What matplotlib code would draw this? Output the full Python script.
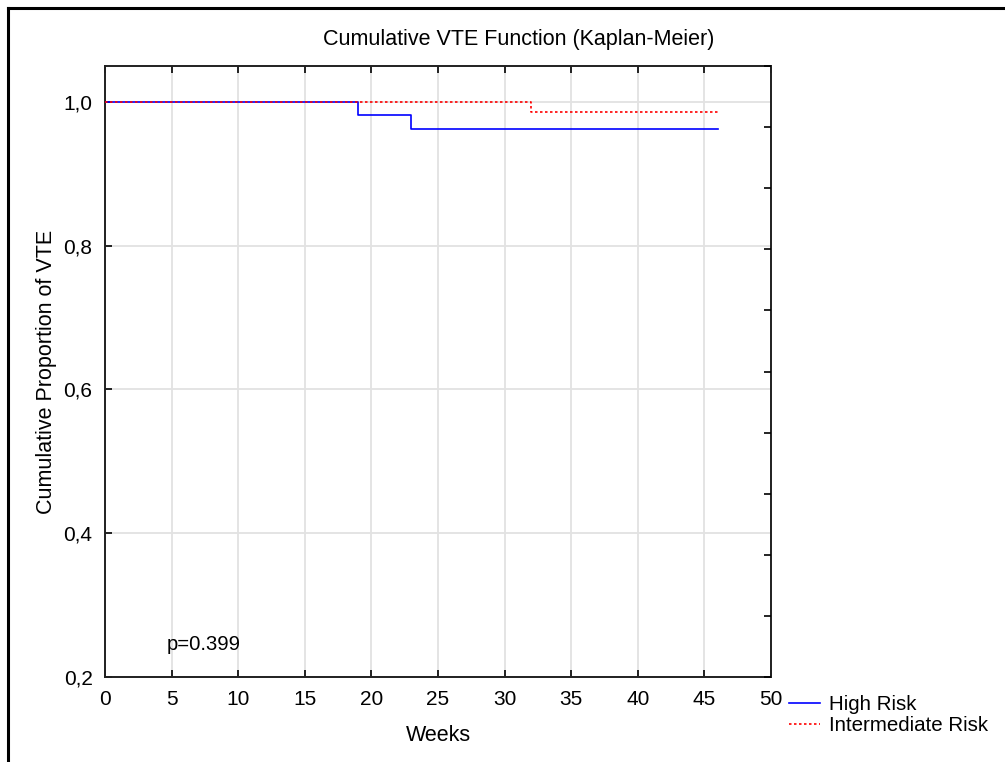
import numpy as np
import matplotlib
matplotlib.use("Agg")
import matplotlib.pyplot as plt
from matplotlib.lines import Line2D
from matplotlib.ticker import FuncFormatter

plt.rcParams['font.family'] = ['Liberation Sans', 'DejaVu Sans']

# Kaplan-Meier step data
high_weeks = [0, 19, 23, 46]
high_prop = [1.0, 0.9815, 0.9625, 0.9625]
inter_weeks = [0, 32, 46]
inter_prop = [1.0, 0.9857, 0.9857]

x_ticks = [0, 5, 10, 15, 20, 25, 30, 35, 40, 45, 50]
y_ticks = [0.2, 0.4, 0.6, 0.8, 1.0]
p_text = "p=0.399"

FS = 15.5

fig = plt.figure(figsize=(10.05, 7.62), dpi=100)
ax = fig.add_axes([0.1045, 0.1115, 0.6627, 0.8019])

ax.plot(high_weeks, high_prop, drawstyle="steps-post", color="#0000ff",
        lw=1.2, label="High Risk", zorder=3)
ax.plot(inter_weeks, inter_prop, drawstyle="steps-post", color="#ff0000",
        lw=1.2, ls=(0, (1.5, 1.5)), label="Intermediate Risk", zorder=3)

ax.set_xlim(0, 50)
ax.set_ylim(0.2, 1.05)
ax.set_xticks(x_ticks)
ax.set_yticks(y_ticks)
ax.yaxis.set_major_formatter(FuncFormatter(lambda v, pos: ("%.1f" % v).replace(".", ",")))
ax.grid(True, color="#e2e2e2", lw=1.3)
ax.set_axisbelow(True)
ax.tick_params(direction="in", length=5, width=1.2, labelsize=15, top=True, pad=9)
ax.tick_params(axis="y", right=False)
for s in ax.spines.values():
    s.set_linewidth(1.4)
    s.set_color("#202020")

# right-hand axis with its own ten divisions, no labels
ax2 = ax.twinx()
ax2.set_ylim(0, 10)
ax2.set_yticks(range(11))
ax2.tick_params(direction="in", length=5, width=1.2, labelright=False)
for s in ax2.spines.values():
    s.set_visible(False)

fig.text(519 / 1005, 1 - 40 / 762, "Cumulative VTE Function (Kaplan-Meier)", fontsize=FS,
         ha="center", va="center")
ax.set_xlabel("Weeks", fontsize=FS, labelpad=12)
ax.set_ylabel("Cumulative Proportion of VTE", fontsize=FS, labelpad=5)
ax.text(4.6, 0.245, p_text, fontsize=14.6, va="center", ha="left")

fig.legend(loc="upper left", bbox_to_anchor=(0.785, 0.088), frameon=False,
           fontsize=14.8, handlelength=1.5, handletextpad=0.47, labelspacing=0.12,
           borderaxespad=0, borderpad=0)

# outer frame (only top and left edges are visible in the picture)
fig.add_artist(Line2D([8 / 1005, 8 / 1005], [-0.1, 1 - 8 / 762], transform=fig.transFigure,
                      color="black", lw=2.2))
fig.add_artist(Line2D([8 / 1005, 1.1], [1 - 8 / 762, 1 - 8 / 762], transform=fig.transFigure,
                      color="black", lw=2.2))

fig.savefig("out.png", dpi=100)
